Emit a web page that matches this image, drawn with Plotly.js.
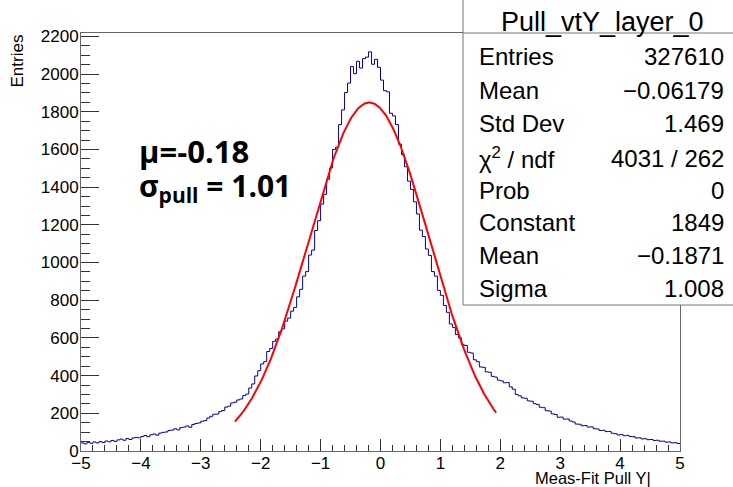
<!DOCTYPE html>
<html>
<head>
<meta charset="utf-8">
<script src="https://cdn.plot.ly/plotly-3.0.1.min.js"></script>
<style>html,body{margin:0;padding:0;background:#fff;}#plot{width:733px;height:487px;}</style>
</head>
<body>
<div id="plot"></div>
<script>
// Histogram definition: 200 bins from -5 to 5
const binLo = -5;
const binHi = 5;
const counts = [
  43, 38, 46, 41, 48, 43, 50, 45, 53, 49,
  56, 51, 59, 63, 57, 66, 61, 69, 72, 70,
  77, 82, 76, 86, 90, 84, 95, 99, 101, 109,
  111, 118, 112, 124, 127, 133, 126, 141, 146, 149,
  158, 161, 175, 184, 195, 196, 209, 215, 233, 238,
  255, 259, 271, 276, 294, 302, 334, 356, 398, 426,
  462, 474, 528, 544, 582, 594, 633, 648, 689, 705,
  742, 762, 818, 858, 928, 952, 1040, 1066, 1170, 1222,
  1310, 1362, 1442, 1502, 1600, 1612, 1732, 1810, 1902, 1952,
  2040, 2002, 2068, 2032, 2082, 2090, 2118, 2052, 2078, 2036,
  1968, 1912, 1906, 1792, 1778, 1732, 1628, 1572, 1508, 1432,
  1388, 1322, 1258, 1172, 1138, 1072, 1038, 952, 928, 852,
  826, 772, 736, 674, 656, 618, 600, 564, 560, 524,
  520, 484, 474, 446, 444, 420, 418, 396, 392, 376,
  372, 362, 363, 340, 328, 300, 293, 282, 280, 266,
  264, 251, 247, 232, 230, 214, 212, 197, 194, 179,
  180, 169, 170, 159, 154, 143, 142, 134, 135, 127,
  128, 118, 117, 109, 110, 103, 104, 94, 92, 85,
  87, 81, 83, 77, 76, 69, 70, 64, 65, 60,
  61, 56, 57, 52, 52, 47, 48, 43, 44, 40
];

// Gaussian fit parameters (from the stats box) and fit range
const fitConstant = 1849;
const fitMean = -0.1871;
const fitSigma = 1.008;
const fitLo = -2.43;
const fitHi = 1.93;

const statTitle = "Pull_vtY_layer_0";
const statLabels = ["Entries", "Mean", "Std Dev", "χ<sup>2</sup> / ndf", "Prob", "Constant", "Mean", "Sigma"];
const statValues = ["327610", "−0.06179", "1.469", "4031 / 262", "0", "1849", "−0.1871", "1.008"];

const xTitle = "Meas-Fit Pull Y|";
const yTitle = "Entries";
const muText = "μ=-0.18";
const sigmaText = "σ<sub>pull</sub> = 1.01";

// build step outline from bin edges
const nb = counts.length;
const bw = (binHi - binLo) / nb;
const edges = [];
for (let i = 0; i <= nb; i++) edges.push(binLo + i * bw);
const stepY = counts.concat([counts[nb - 1]]);

// fit curve
const fx = [], fy = [];
const nf = 300;
for (let i = 0; i <= nf; i++) {
  const x = fitLo + (fitHi - fitLo) * i / nf;
  fx.push(x);
  fy.push(fitConstant * Math.exp(-0.5 * Math.pow((x - fitMean) / fitSigma, 2)));
}

const W = 733, H = 487;
const L = 81, R = 680, T = 33, B = 451;
const px = p => (p - L) / (R - L);
const py = p => (B - p) / (B - T);

const font = "Liberation Sans, Arial, sans-serif";

const traces = [
  {x: edges, y: stepY, type: "scatter", mode: "lines", line: {shape: "hv", color: "#000099", width: 1}, hoverinfo: "skip"},
  {x: fx, y: fy, type: "scatter", mode: "lines", line: {color: "#ff0000", width: 2}, hoverinfo: "skip"}
];

const rowY = [57, 90, 123, 158, 190, 222, 255, 288];
const annotations = [];
annotations.push({xref: "paper", yref: "paper", x: px(602), y: py(22), xanchor: "center", yanchor: "middle", text: statTitle, showarrow: false, font: {family: font, size: 27, color: "#000"}});
statLabels.forEach((t, i) => {
  annotations.push({xref: "paper", yref: "paper", x: px(477), y: py(rowY[i]), xanchor: "left", yanchor: "middle", text: t, showarrow: false, font: {family: font, size: 24, color: "#000"}});
  annotations.push({xref: "paper", yref: "paper", x: px(726), y: py(rowY[i]), xanchor: "right", yanchor: "middle", text: statValues[i], showarrow: false, font: {family: font, size: 24, color: "#000"}});
});
annotations.push({xref: "paper", yref: "paper", x: px(137), y: py(151), xanchor: "left", yanchor: "middle", text: "<b>" + muText + "</b>", showarrow: false, font: {family: "Open Sans, sans-serif", size: 31, color: "#000"}});
annotations.push({xref: "paper", yref: "paper", x: px(137), y: py(187), xanchor: "left", yanchor: "middle", text: "<b>" + sigmaText + "</b>", showarrow: false, font: {family: "Open Sans, sans-serif", size: 30, color: "#000"}});
annotations.push({xref: "paper", yref: "paper", x: px(653), y: py(478), xanchor: "right", yanchor: "middle", text: xTitle, showarrow: false, font: {family: font, size: 16.5, color: "#000"}});
annotations.push({xref: "paper", yref: "paper", x: px(17), y: py(33), xanchor: "center", yanchor: "top", text: yTitle, textangle: -90, showarrow: false, font: {family: font, size: 17, color: "#000"}});

const layout = {
  width: W, height: H,
  margin: {l: L, r: W - R, t: T, b: H - B, pad: 0},
  paper_bgcolor: "#fff", plot_bgcolor: "#fff",
  showlegend: false,
  xaxis: {
    range: [binLo, binHi], dtick: 1, tick0: 0, ticks: "inside", ticklen: 12, tickwidth: 1, tickcolor: "#333",
    showline: true, mirror: true, linecolor: "#666", linewidth: 1, showgrid: false, zeroline: false,
    minor: {dtick: 0.2, ticks: "inside", ticklen: 6, tickwidth: 1, tickcolor: "#333", showgrid: false},
    tickfont: {family: font, size: 17, color: "#000"}, ticklabelstandoff: -3, fixedrange: true
  },
  yaxis: {
    range: [0, 2218], dtick: 200, tick0: 0, ticks: "inside", ticklen: 18, tickwidth: 1, tickcolor: "#333",
    showline: true, mirror: true, linecolor: "#666", linewidth: 1, showgrid: false, zeroline: false,
    minor: {dtick: 50, ticks: "inside", ticklen: 9, tickwidth: 1, tickcolor: "#333", showgrid: false},
    tickfont: {family: font, size: 17, color: "#000"}, ticklabelstandoff: -2, fixedrange: true
  },
  shapes: [
    {type: "rect", xref: "paper", yref: "paper", x0: px(463), x1: px(740), y0: py(305), y1: py(-2), fillcolor: "#fff", line: {color: "#777", width: 1}, layer: "above"},
    {type: "line", xref: "paper", yref: "paper", x0: px(463), x1: px(740), y0: py(33), y1: py(33), line: {color: "#777", width: 1}, layer: "above"}
  ],
  annotations: annotations
};

Plotly.newPlot("plot", traces, layout, {staticPlot: true, displayModeBar: false});
</script>
</body>
</html>
